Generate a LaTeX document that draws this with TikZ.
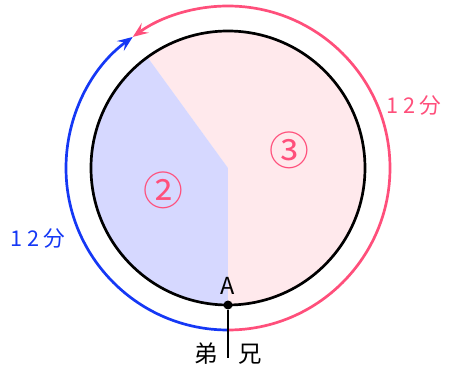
\documentclass[tikz,border=0pt]{standalone}
\usepackage{fontspec}
\setmainfont{Noto Sans CJK JP}
\newfontfamily\spacedjp[LetterSpace=22]{Noto Sans CJK JP}
\usetikzlibrary{arrows.meta, positioning}
\definecolor{lappink}{HTML}{FF4F7B}
\definecolor{lapblue}{HTML}{1538F5}
\definecolor{partblue}{HTML}{D6D8FF}
\definecolor{partpink}{HTML}{FFE9EC}

\begin{document}
\begin{tikzpicture}[
    x=0.03cm, y=0.03cm,
    rim/.style={line width=2.3pt, draw=black},
    lap/.style={line width=2.3pt, -{Stealth[length=4.6mm, width=3.6mm, inset=1.8mm]}},
    lapnote/.style={font=\spacedjp\fontsize{18.5}{18.5}\selectfont},
    share/.style={text=lappink, font=\fontsize{34}{34}\selectfont},
    runner/.style={font=\fontsize{20}{20}\selectfont},
    every node/.style={inner sep=0pt},
]
\useasboundingbox (-228,-199) rectangle (222,168);

% Shares of the track
\fill[partpink] (0,0) -- (-90:137) arc[start angle=-90, end angle=126, radius=137] -- cycle;
\fill[partblue] (0,0) -- (126:137) arc[start angle=126, end angle=270, radius=137] -- cycle;
\draw[rim] (0,0) circle[radius=137];

% Laps
\draw[lap, lapblue] (-90:162) arc[start angle=-90, end angle=-234, radius=162];
\draw[lap, lappink] (-90:162) arc[start angle=-90, end angle=126, radius=162];

% Start point
\node[circle, fill=black, minimum size=0.27cm] (A) at (0,-137) {};
\coordinate (foot) at (0,-190);
\draw[line width=2.3pt] (A) -- (foot);

\node[runner] (Alabel) at (0,-118) {A};
\node[runner] (younger) at (-22,-186) {弟};
\node[runner] (elder)   at (22,-186)  {兄};

\node[share] (three) at (61,18)   {③};
\node[share] (two)   at (-65,-22) {②};

\node[lapnote, text=lappink] (timepink) at (186,62)  {12分};
\node[lapnote, text=lapblue] (timeblue) at (-190,-71) {12分};
\end{tikzpicture}
\end{document}
